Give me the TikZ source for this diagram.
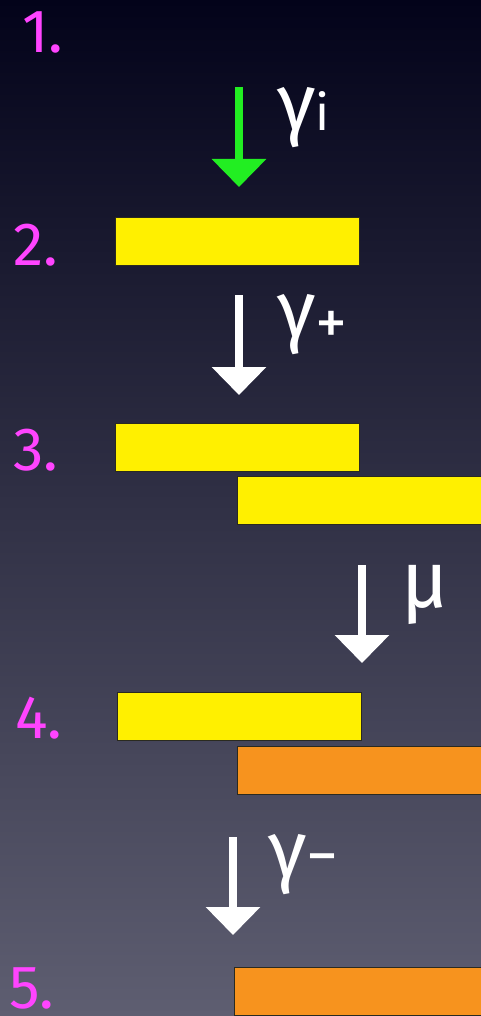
\documentclass[tikz,border=0pt]{standalone}
\usepackage{fontspec}
\setmainfont{Fira Sans}
\usetikzlibrary{arrows.meta}
\definecolor{bgtop}{HTML}{03031A}
\definecolor{bgmid}{HTML}{2A2A46}
\definecolor{bgbot}{HTML}{5E5E71}
\definecolor{stepnum}{HTML}{FF44FF}
\definecolor{baryel}{HTML}{FFF000}
\definecolor{barorg}{HTML}{F7931E}
\definecolor{barline}{HTML}{2A2A20}
\definecolor{arrgrn}{HTML}{22EE22}
\newcommand{\subsz}{\fontsize{50}{50}\selectfont}
\newcommand{\signsz}{\fontsize{64}{64}\selectfont}
\tikzset{
  num/.style={anchor=base west,inner sep=0pt,text depth=0pt,text=stepnum,font=\fontsize{61}{61}\selectfont},
  bar/.style={draw=barline,line width=1.2pt,anchor=north west,minimum width=244pt,minimum height=48pt,inner sep=0pt},
  flow/.style={-{Triangle[width=53pt,length=28pt]},line width=8.5pt,white},
  lbl/.style={anchor=base west,inner sep=0pt,text=white,font=\fontsize{80}{80}\selectfont}
}
\begin{document}
\begin{tikzpicture}[x=1pt,y=-1pt]
\useasboundingbox (0,0) rectangle (481,1016);
\clip (0,0) rectangle (481,1016);
\shade[top color=bgtop,middle color=bgmid,bottom color=bgbot] (0,0) rectangle (481,1016);
% step numbers
\node[num] (n1) at (22,53) {1.};
\node[num] (n2) at (13,265) {2.};
\node[num] (n3) at (13,470) {3.};
\node[num] (n4) at (15,738) {4.};
\node[num] (n5) at (9,1008) {5.};
% bars
\node[bar,fill=baryel] (b2) at (115,217) {};
\node[bar,fill=baryel] (b3a) at (115,423) {};
\node[bar,fill=baryel,minimum width=260pt] (b3b) at (237,476) {};
\node[bar,fill=baryel] (b4a) at (117,692) {};
\node[bar,fill=barorg,minimum width=260pt] (b4b) at (237,746) {};
\node[bar,fill=barorg,minimum width=260pt] (b5) at (234,967) {};
% arrows
\coordinate (a1s) at (239,87);  \coordinate (a1e) at (239,187);
\coordinate (a2s) at (239,295); \coordinate (a2e) at (239,395);
\coordinate (a3s) at (362,565); \coordinate (a3e) at (362,663);
\coordinate (a4s) at (233,837); \coordinate (a4e) at (233,935);
\draw[flow,arrgrn] (a1s)--(a1e);
\draw[flow] (a2s)--(a2e);
\draw[flow] (a3s)--(a3e);
\draw[flow] (a4s)--(a4e);
% labels
\node[lbl] (l1) at (277,131) {γ{\subsz i}};
\node[lbl] (l2) at (277,337) {γ{\signsz\raisebox{-7pt}{+}}};
\node[lbl] (l3) at (401,607) {μ};
\node[lbl] (l4) at (268,877) {γ{\signsz −}};
\end{tikzpicture}
\end{document}
